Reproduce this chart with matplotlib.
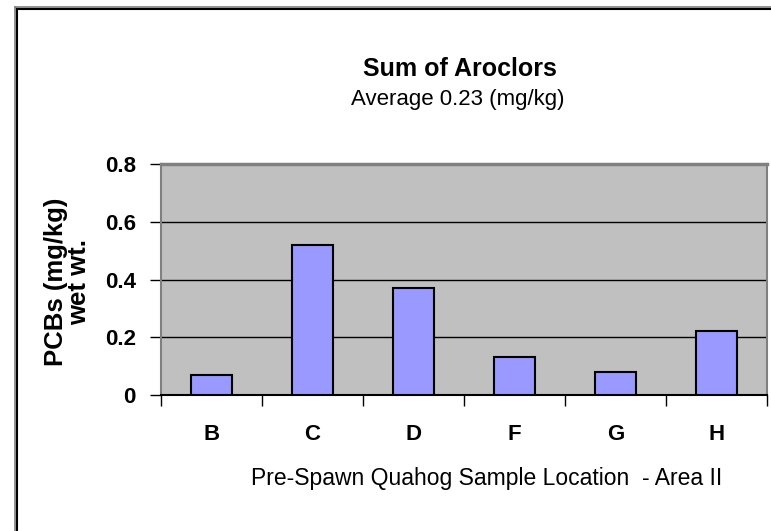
import matplotlib
matplotlib.use("Agg")
import matplotlib.pyplot as plt
from matplotlib.lines import Line2D

plt.rcParams['font.family'] = ['Liberation Sans', 'DejaVu Sans']

# data
locations = ['B', 'C', 'D', 'F', 'G', 'H']
pcb_values = [0.07, 0.52, 0.37, 0.13, 0.08, 0.22]
y_ticks = [0, 0.2, 0.4, 0.6, 0.8]
y_tick_labels = ['0', '0.2', '0.4', '0.6', '0.8']

W, H = 771, 531
fig = plt.figure(figsize=(W / 100, H / 100), dpi=100)
ax = fig.add_axes([161 / W, 1 - 395 / H, (767 - 161) / W, (395 - 164) / H])

ax.set_facecolor('#C0C0C0')
x = list(range(len(locations)))
ax.bar(x, pcb_values, width=0.41, color='#9999FF', edgecolor='black', linewidth=1.5, zorder=3)

ax.set_xlim(-0.5, len(locations) - 0.5)
ax.set_ylim(0, 0.8)
ax.set_yticks(y_ticks)
ax.set_yticklabels(y_tick_labels, fontweight='bold')
for yv in y_ticks[1:-1]:
    ax.axhline(yv, color='black', linewidth=1.0, zorder=1)

# category labels sit between the boundary ticks
ax.set_xticks([i + 0.5 for i in range(-1, len(locations))])
ax.set_xticklabels([])
ax.set_xticks(x, minor=True)
ax.set_xticklabels(locations, minor=True, fontsize=16, fontweight='bold')
ax.tick_params(axis='x', which='minor', length=0, pad=21)
ax.tick_params(axis='x', which='major', length=8, width=1, color='black')
ax.tick_params(axis='y', length=8, width=1, pad=10, labelsize=16)

for side in ['left', 'top', 'right']:
    ax.spines[side].set_color('#808080')
    ax.spines[side].set_linewidth(1.5)
ax.spines['top'].set_linewidth(2.5)
ax.spines['bottom'].set_color('black')
ax.spines['bottom'].set_linewidth(1.5)

fig.text(460 / W, 1 - 69 / H, 'Sum of Aroclors', ha='center', va='center',
         fontsize=18, fontweight='bold')
fig.text(458 / W, 1 - 99 / H, 'Average 0.23 (mg/kg)', ha='center', va='center',
         fontsize=16)
fig.text(487 / W, 1 - 479 / H, 'Pre-Spawn Quahog Sample Location  - Area II',
         ha='center', va='center', fontsize=16.5)
fig.text(68 / W, 1 - 282 / H, 'PCBs (mg/kg)\nwet wt.', ha='center', va='center',
         rotation=90, fontsize=18.5, fontweight='bold', multialignment='center',
         linespacing=0.95)

# outer frame (double line, right and bottom fall off the picture)
fl, ft = 15 / W, 1 - 7 / H
fig.add_artist(Line2D([fl, fl], [0, ft], transform=fig.transFigure, color='#808080', lw=1.2))
fig.add_artist(Line2D([fl, 1], [ft, ft], transform=fig.transFigure, color='#808080', lw=1.2))
fl2, ft2 = 17 / W, 1 - 9 / H
fig.add_artist(Line2D([fl2, fl2], [0, ft2], transform=fig.transFigure, color='black', lw=1.5))
fig.add_artist(Line2D([fl2, 1], [ft2, ft2], transform=fig.transFigure, color='black', lw=1.5))

fig.savefig('out.png', dpi=100)
